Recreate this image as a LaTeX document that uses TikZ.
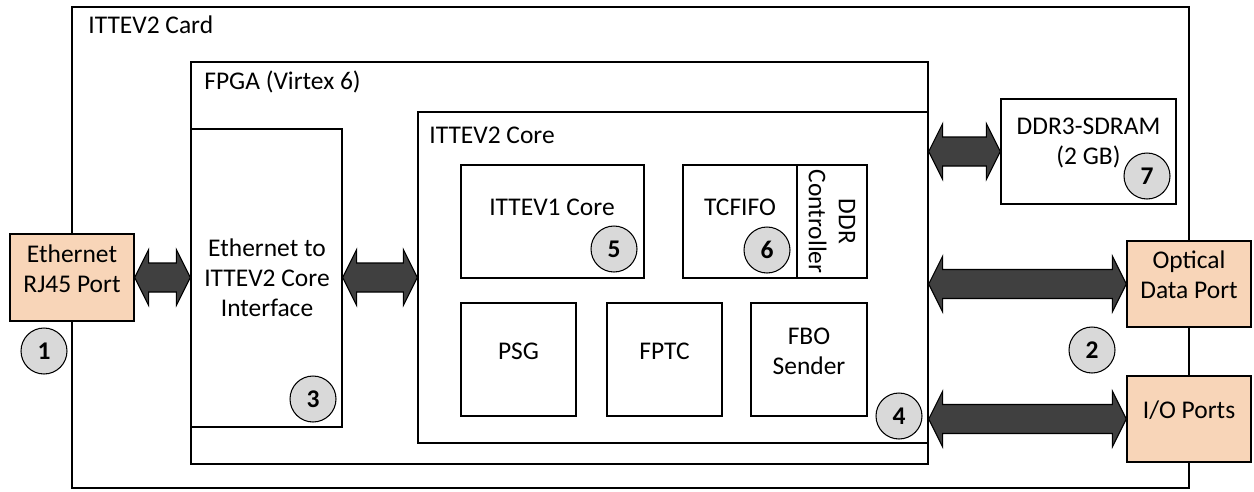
\documentclass[tikz,border=0pt]{standalone}
\usepackage{fontspec}
\setmainfont{Carlito}
\usetikzlibrary{calc,fit}

\definecolor{portorange}{RGB}{248,213,184}
\definecolor{busgray}{RGB}{64,64,64}
\definecolor{numgray}{RGB}{217,217,217}

\tikzset{
  box/.style={draw, line width=0.8pt, inner sep=0pt, align=center},
  port/.style={box, fill=portorange},
  txt/.style={inner sep=0pt, align=center},
  lbl/.style={inner sep=0pt, anchor=base west},
  num/.style={circle, draw, fill=numgray, line width=0.6pt, minimum size=0.92cm,
    inner sep=0pt, font=\fontsize{14.5}{17}\selectfont\bfseries},
  bus/.style={draw=black, fill=busgray, line width=0.6pt,
    to path={let \p1=(\tikztostart), \p2=(\tikztotarget) in
      (\x1,\y1) -- (\x1+0.28cm,\y1+0.56cm) -- (\x1+0.28cm,\y1+0.29cm)
      -- (\x2-0.28cm,\y1+0.29cm) -- (\x2-0.28cm,\y1+0.56cm) -- (\x2,\y1)
      -- (\x2-0.28cm,\y1-0.56cm) -- (\x2-0.28cm,\y1-0.29cm)
      -- (\x1+0.28cm,\y1-0.29cm) -- (\x1+0.28cm,\y1-0.56cm) -- cycle}},
}

\begin{document}
\begin{tikzpicture}[x=0.02cm,y=-0.02cm,
    every node/.style={font=\fontsize{14.5}{17}\selectfont}]
  \useasboundingbox (0,0) rectangle (1254,491);

  % card and fpga
  \node[box, fit={(72,7) (1189,488)}] (card) {};
  \node[lbl] (cardlbl) at (88,33) {ITTEV2 Card};
  \node[box, fit={(191,62) (928,464)}] (fpga) {};
  \node[lbl] (fpgalbl) at (204,89) {FPGA (Virtex 6)};

  \node[box, fit={(191,129) (342,427)}] (iface) {};
  \node[txt] (ifacetxt) at (267,278) {Ethernet to\\ITTEV2 Core\\Interface};

  % core
  \node[box, fit={(418,112) (928,443)}] (core) {};
  \node[lbl] (corelbl) at (429,143) {ITTEV2 Core};
  \node[box, fit={(461,165) (644,278)}] (v1core) {};
  \node[txt] (v1txt) at (552,207) {ITTEV1 Core};
  \node[box, fit={(683,165) (797,278)}] (tcfifo) {};
  \node[txt] (tctxt) at (740,207) {TCFIFO};
  \node[box, fit={(797,165) (867,278)},
    label={[txt,rotate=-90]center:DDR\\Controller}] (ddrctl) {};
  \node[box, fit={(461,303) (576,416)}] (psg) {PSG};
  \node[box, fit={(607,303) (722,416)}] (fptc) {FPTC};
  \node[box, fit={(751,303) (867,416)}] (fbo) {FBO\\Sender};

  \node[box, fit={(1001,99) (1176,204)}] (ddr) {DDR3-SDRAM\\(2 GB)};

  % ports
  \node[port, fit={(10,234) (134,321)}] (eth) {Ethernet\\RJ45 Port};
  \node[port, fit={(1127,241) (1251,327)}] (optical) {Optical\\Data Port};
  \node[port, fit={(1127,376) (1251,462)}] (ioports) {I/O Ports};

  % buses
  \draw[bus] (eth.east) to (eth.east -| iface.west);
  \draw[bus] (eth.east -| iface.east) to (eth.east -| core.west);
  \draw[bus] (ddr.west -| core.east) to (ddr.west);
  \draw[bus] (optical.west -| core.east) to (optical.west);
  \draw[bus] (ioports.west -| core.east) to (ioports.west);

  \node[num] (n1) at (44,351) {1};
  \node[num] (n2) at (1092,350) {2};
  \node[num] (n3) at (313,399) {3};
  \node[num] (n4) at (899,416) {4};
  \node[num] (n5) at (614,249) {5};
  \node[num] (n6) at (767,250) {6};
  \node[num] (n7) at (1147,176) {7};
\end{tikzpicture}
\end{document}
